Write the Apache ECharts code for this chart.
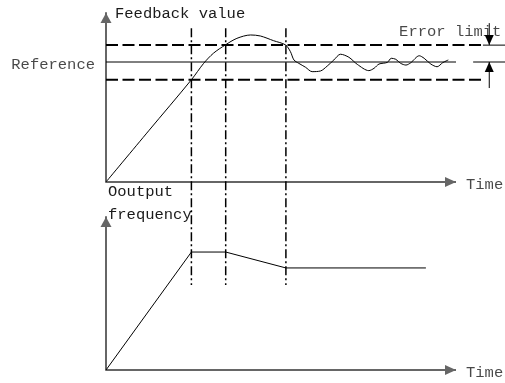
<!DOCTYPE html>
<html>
<head>
<meta charset="utf-8">
<script src="https://cdn.jsdelivr.net/npm/echarts@6/dist/echarts.min.js"></script>
<style>
html, body { margin: 0; padding: 0; background: #fff; }
#chart { width: 505px; height: 383px; }
</style>
</head>
<body>
<div id="chart"></div>
<script>
// time: 0 at the origin, 100 at the arrow tip; values: 0 at the origin, 100 at the arrow tip
const feedback = [
    [0, 0], [12.2, 30.3], [24.4, 60.5], [27.9, 70.2], [30.7, 76.2], [34.1, 81.1],
    [37.4, 85.0], [41.3, 87.0], [44.1, 86.4], [47.9, 83.6], [51.3, 81.1], [52.7, 77.1],
    [53.7, 72.2], [55.1, 70.2], [57.0, 67.9], [58.9, 65.3], [61.3, 65.7], [63.2, 68.6],
    [65.1, 72.2], [67.0, 75.6], [69.4, 73.8], [71.8, 69.6], [75.1, 65.9], [76.6, 67.3],
    [78.0, 69.8], [80.4, 70.8], [81.5, 73.2], [82.8, 72.6], [84.2, 70.2], [85.7, 69.2],
    [87.1, 70.6], [89.5, 74.7], [90.9, 73.2], [92.8, 69.8], [94.6, 68.2], [96.2, 70.6],
    [97.8, 72.2]
];
const frequency = [[0, 0], [24.4, 77.1], [34.2, 77.1], [51.4, 66.7], [91.4, 66.7]];
const markTimes = [24.4, 34.2, 51.4];
const markTop = 91;
const markBottom = -61;

const reference = 71;
const errorUpper = 81;
const errorLower = 60.5;
const referenceEnd = 100;
const limitEnd = 107.7;
const stubStart = 104.9;
const stubEnd = 114;
const arrowX = 109.5;
const arrowTop = 94;
const arrowBottom = 55.6;
const timeEnd = 100;

const font = 'Liberation Mono';
const fontSize = 15.5;
const textColor = '#1a1a1a';
const axisColor = '#666';

function segment(points, style, extra) {
    return Object.assign({
        type: 'line',
        xAxisIndex: 0,
        yAxisIndex: 0,
        data: points,
        showSymbol: false,
        clip: false,
        silent: true,
        lineStyle: Object.assign({ color: '#000', width: 1 }, style)
    }, extra || {});
}

function axisX(idx) {
    return {
        type: 'value', gridIndex: idx, min: 0, max: 114,
        axisLine: { show: false }, axisTick: { show: false },
        axisLabel: { show: false }, splitLine: { show: false }
    };
}

function axisY(name, idx, gap, nameStyle) {
    return {
        type: 'value', gridIndex: idx, min: 0, max: 100,
        name: name, nameLocation: 'end', nameGap: gap,
        nameTextStyle: Object.assign({ fontFamily: font, fontSize: fontSize, color: textColor, align: 'left' }, nameStyle),
        axisLine: { show: true, symbol: ['none', 'triangle'], symbolSize: [11, 10], symbolOffset: [0, -5],
            lineStyle: { color: axisColor, width: 2 } },
        axisTick: { show: false }, axisLabel: { show: false }, splitLine: { show: false }
    };
}

// time axis drawn as a line with an arrow head, so that the grid can run past it
function timeAxis(idx) {
    return segment([
        { value: [0, 0], symbol: 'none' },
        { value: [timeEnd, 0], symbol: 'triangle', symbolSize: [10, 11], symbolRotate: -90, symbolOffset: [-5.5, 0] }
    ], { color: axisColor, width: 2 }, {
        xAxisIndex: idx, yAxisIndex: idx, showSymbol: true, itemStyle: { color: axisColor }
    });
}

function notes(idx, items) {
    return {
        type: 'scatter',
        xAxisIndex: idx, yAxisIndex: idx,
        symbolSize: 0,
        clip: false,
        silent: true,
        itemStyle: { color: 'rgba(0,0,0,0)' },
        label: { show: true, formatter: '{b}', fontFamily: font, fontSize: fontSize, color: textColor },
        data: items
    };
}

const series = [];

series.push(timeAxis(0));
series.push(timeAxis(1));

series.push(segment(feedback, { width: 1 }, { smooth: 0.3 }));
series.push(segment([[0, reference], [referenceEnd, reference]], {}));
series.push(segment([[0, errorUpper], [limitEnd, errorUpper]], { type: [12, 4.5], width: 2 }));
series.push(segment([[0, errorLower], [limitEnd, errorLower]], { type: [12, 4.5], width: 2 }));
series.push(segment([[limitEnd, errorUpper], [stubEnd, errorUpper]], {}));
series.push(segment([[stubStart, reference], [stubEnd, reference]], {}));

// error limit arrows
series.push(segment([
    { value: [arrowX, arrowTop], symbol: 'none' },
    { value: [arrowX, errorUpper], symbol: 'triangle', symbolSize: [9, 10], symbolRotate: 180, symbolOffset: [0, -5] }
], {}, { showSymbol: true, itemStyle: { color: '#000' } }));
series.push(segment([
    { value: [arrowX, arrowBottom], symbol: 'none' },
    { value: [arrowX, reference], symbol: 'triangle', symbolSize: [9, 10], symbolOffset: [0, 5] }
], {}, { showSymbol: true, itemStyle: { color: '#000' } }));

for (const t of markTimes) {
    series.push(segment([[t, markTop], [t, markBottom]], { type: [9, 3, 2, 3], width: 1.5 }));
}

series.push(segment(frequency, {}, { xAxisIndex: 1, yAxisIndex: 1 }));

series.push(notes(0, [
    { name: 'Reference', value: [0, reference], label: { position: 'left', distance: 11, offset: [0, 3] } },
    { name: 'Error limit', value: [arrowX, arrowTop], label: { position: 'inside', offset: [-39, 9] } },
    { name: 'Time', value: [timeEnd, 0], label: { position: 'right', distance: 10, offset: [0, 3] } }
]));
series.push(notes(1, [
    { name: 'Time', value: [timeEnd, 0], label: { position: 'right', distance: 10, offset: [0, 3] } }
]));

const chart = echarts.init(document.getElementById('chart'), null, { renderer: 'canvas' });
chart.setOption({
    animation: false,
    backgroundColor: '#fff',
    grid: [
        { left: 106, right: 0, top: 13, bottom: 201, containLabel: false, outerBoundsMode: 'none' },
        { left: 106, right: 0, top: 217, bottom: 13, containLabel: false, outerBoundsMode: 'none' }
    ],
    xAxis: [axisX(0), axisX(1)],
    yAxis: [
        axisY('Feedback value', 0, -1, { verticalAlign: 'middle', padding: [0, 0, 0, 9] }),
        axisY('Ooutput\nfrequency', 1, -9.5, { verticalAlign: 'bottom', lineHeight: 23, padding: [0, 0, 0, 2] })
    ],
    series: series
});
</script>
</body>
</html>
